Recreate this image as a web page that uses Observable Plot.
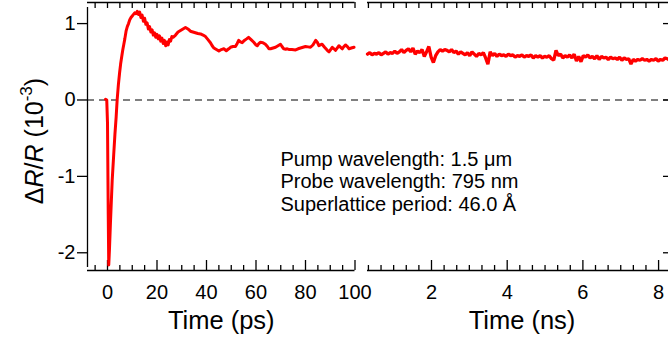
<!DOCTYPE html>
<html><head><meta charset="utf-8">
<script src="https://cdn.jsdelivr.net/npm/d3@7"></script>
<script src="https://cdn.jsdelivr.net/npm/@observablehq/plot@0.6"></script>
<style>
body{margin:0;background:#fff;}
#chart{position:relative;width:668px;height:345px;}
#chart svg{position:absolute;left:0;top:0;}
</style>
</head><body><div id="chart"></div>
<script>
// ---- data ----
const psTime = [
-0.8,-0.3,0.0,0.3,0.5,0.8,1.2,1.9,2.5,3.0,
3.5,3.9,4.4,4.9,5.3,5.8,6.2,6.6,7.0,7.5,
8.0,8.5,9.0,9.5,10.0,10.5,11.0,11.5,12.0,12.5,
13.0,13.5,14.0,14.5,15.0,15.5,16.0,16.5,17.0,17.5,
18.0,18.5,19.0,19.5,20.0,20.5,21.0,21.5,22.0,22.5,
23.0,23.5,24.0,24.5,25.0,25.5,26.0,26.5,27.5,28.5,
29.5,30.5,31.5,32.5,33.5,34.5,35.5,36.5,37.6,38.6,
39.6,40.6,41.6,42.3,43.0,44.0,45.0,46.0,47.0,48.0,
49.0,49.7,50.7,51.7,52.4,53.0,53.7,54.4,55.3,56.2,
57.0,58.0,59.1,60.0,60.5,61.2,61.8,62.8,63.8,64.6,
65.2,65.9,66.9,67.9,68.9,69.9,70.5,71.2,72.0,72.6,
73.5,74.5,76.0,77.0,78.0,79.0,80.0,81.0,82.0,83.0,
84.1,84.7,85.4,86.0,86.7,87.7,88.8,89.5,90.8,91.5,
92.1,92.8,93.5,94.2,94.9,95.5,96.2,96.9,97.6,98.5,
99.6];
const psValue = [
0.01,0.0,-0.3,-1.5,-2.16,-1.95,-1.6,-1.05,-0.72,-0.45,
-0.22,0.0,0.2,0.36,0.47,0.58,0.66,0.73,0.8,0.9,
0.96,1.0,1.05,1.08,1.10,1.12,1.14,1.13,1.16,1.12,
1.15,1.08,1.11,1.03,1.07,0.99,1.01,0.93,0.96,0.89,
0.92,0.85,0.88,0.82,0.86,0.80,0.84,0.77,0.81,0.74,
0.78,0.71,0.76,0.72,0.79,0.77,0.83,0.82,0.85,0.89,
0.91,0.93,0.95,0.93,0.90,0.89,0.88,0.87,0.865,0.85,
0.83,0.79,0.75,0.71,0.68,0.66,0.64,0.66,0.67,0.645,
0.67,0.69,0.70,0.70,0.74,0.78,0.76,0.75,0.78,0.80,
0.82,0.79,0.755,0.72,0.71,0.74,0.755,0.75,0.73,0.70,
0.67,0.67,0.68,0.69,0.71,0.73,0.70,0.67,0.665,0.67,
0.66,0.66,0.655,0.67,0.68,0.69,0.70,0.695,0.69,0.72,
0.78,0.76,0.71,0.72,0.73,0.69,0.65,0.63,0.69,0.67,
0.65,0.68,0.71,0.69,0.67,0.70,0.72,0.70,0.67,0.68,
0.69];
const nsTime = [
0.31,0.37,0.43,0.49,0.55,0.61,0.67,0.73,0.79,0.85,
0.91,0.97,1.03,1.09,1.15,1.21,1.27,1.33,1.39,1.45,
1.51,1.57,1.63,1.69,1.75,1.81,1.87,1.93,1.99,2.05,
2.11,2.17,2.23,2.29,2.35,2.41,2.47,2.53,2.59,2.65,
2.71,2.77,2.83,2.89,2.95,3.01,3.07,3.13,3.19,3.25,
3.31,3.37,3.43,3.49,3.55,3.61,3.67,3.73,3.79,3.85,
3.91,3.97,4.03,4.09,4.15,4.21,4.27,4.33,4.39,4.45,
4.51,4.57,4.63,4.69,4.75,4.81,4.87,4.93,4.99,5.05,
5.11,5.17,5.23,5.29,5.35,5.41,5.47,5.53,5.59,5.65,
5.71,5.77,5.83,5.89,5.95,6.01,6.07,6.13,6.19,6.25,
6.31,6.37,6.43,6.49,6.55,6.61,6.67,6.73,6.79,6.85,
6.91,6.97,7.03,7.09,7.15,7.21,7.27,7.33,7.39,7.45,
7.51,7.57,7.63,7.69,7.75,7.81,7.87,7.93,7.99,8.05,
8.11,8.17,8.23,8.26];
const nsValue = [
0.60,0.62,0.59,0.61,0.60,0.62,0.59,0.61,0.63,0.60,
0.62,0.61,0.64,0.61,0.63,0.66,0.62,0.65,0.67,0.63,
0.68,0.60,0.64,0.62,0.66,0.57,0.63,0.70,0.56,0.49,
0.58,0.63,0.66,0.64,0.66,0.65,0.63,0.66,0.62,0.64,
0.60,0.63,0.61,0.59,0.62,0.58,0.63,0.60,0.57,0.61,
0.59,0.62,0.55,0.47,0.63,0.58,0.61,0.57,0.60,0.58,
0.59,0.57,0.60,0.58,0.59,0.56,0.58,0.57,0.59,0.56,
0.58,0.57,0.59,0.55,0.58,0.56,0.58,0.55,0.57,0.56,
0.58,0.54,0.52,0.65,0.58,0.60,0.55,0.58,0.56,0.59,
0.55,0.60,0.51,0.57,0.50,0.58,0.56,0.59,0.55,0.57,
0.54,0.58,0.53,0.57,0.55,0.56,0.53,0.56,0.54,0.55,
0.53,0.56,0.52,0.55,0.53,0.54,0.47,0.53,0.51,0.53,
0.52,0.54,0.52,0.53,0.51,0.53,0.52,0.54,0.51,0.53,
0.52,0.55,0.54,0.53];
const psTicks = [0, 20, 40, 60, 80, 100];
const nsTicks = [2, 4, 6, 8];
const yTicks = [-2, -1, 0, 1];
const notes = ["Pump wavelength: 1.5 \u03bcm", "Probe wavelength: 795 nm", "Superlattice period: 46.0 \u00c5"];
const xLabelPs = "Time (ps)";
const xLabelNs = "Time (ns)";

// ---- layout ----
const FONT = "'Liberation Sans', Arial, Helvetica, sans-serif";
const W = 668, Hh = 345;
const mTop = 2, mBottom = 75;
const H = Hh - mTop - mBottom;
const yDomain = [-2.232, 1.276];
const psDomain = [-8.08, 100];
const nsDomain = [0.309, 8.262];
const leftL = 87, leftR = 354.5, rightL = 367;
const WL = leftR - leftL, WR = W - rightL;
const RED = "#ff0000";
const AX = {stroke: "black", strokeWidth: 1.3};
const style = {background: "transparent", overflow: "visible", fontFamily: FONT};

const psData = psTime.map((t, i) => ({t, v: psValue[i]}));
const nsData = nsTime.map((t, i) => ({t, v: nsValue[i]}));
const psAll = d3.range(-5, 101, 5);
const psMinor = psAll.filter(d => d % 20 !== 0);
const nsAll = d3.range(1, 25).map(k => k / 3);
const nsMinor = d3.range(1, 25).filter(k => k % 6 !== 0).map(k => k / 3);

const left = Plot.plot({
  width: W, height: Hh,
  marginLeft: leftL, marginRight: W - leftR, marginTop: mTop, marginBottom: mBottom,
  style,
  x: {domain: psDomain, axis: null},
  y: {domain: yDomain, axis: null},
  marks: [
    Plot.ruleY([0], {stroke: "black", strokeWidth: 1.2, strokeDasharray: "7,5", insetRight: -(W - leftR)}),
    Plot.ruleY([yDomain[0]], AX),
    Plot.ruleY([yDomain[1]], AX),
    Plot.ruleX([psDomain[0]], {...AX, insetTop: 5, insetBottom: 3}),
    Plot.tickX(psTicks, {...AX, insetTop: H - 10}),
    Plot.tickX(psMinor, {...AX, insetTop: H - 5}),
    Plot.tickX(psAll, {...AX, insetBottom: H - 6}),
    Plot.tickY(yTicks, {...AX, insetLeft: -10, insetRight: WL}),
    Plot.text(yTicks, {y: d => d, text: d => String(d), frameAnchor: "left", dx: -12, textAnchor: "end", lineAnchor: "middle", fontSize: 20, fill: "black", fontFamily: FONT}),
    Plot.text(psTicks, {x: d => d, text: d => String(d), frameAnchor: "bottom", dy: 28, lineAnchor: "bottom", fontSize: 20, fill: "black", fontFamily: FONT}),
    Plot.text([xLabelPs], {text: d => d, frameAnchor: "bottom", dy: 58, lineAnchor: "bottom", fontSize: 25.5, fill: "black", fontFamily: FONT}),
    Plot.text([notes.join("\n")], {text: d => d, frameAnchor: "top-left", dx: 193, dy: 147, lineAnchor: "top", textAnchor: "start", fontSize: 20, lineHeight: 1.13, fill: "black", fontFamily: FONT}),
    Plot.line(psData, {x: "t", y: "v", stroke: RED, strokeWidth: 3, strokeLinejoin: "round"})
  ]
});

const right = Plot.plot({
  width: W, height: Hh,
  marginLeft: rightL, marginRight: 0, marginTop: mTop, marginBottom: mBottom,
  style,
  x: {domain: nsDomain, axis: null},
  y: {domain: yDomain, axis: null},
  marks: [
    Plot.ruleY([yDomain[0]], AX),
    Plot.ruleY([yDomain[1]], AX),
    Plot.tickX(nsTicks, {...AX, insetTop: H - 10}),
    Plot.tickX(nsMinor, {...AX, insetTop: H - 5}),
    Plot.tickX(nsAll, {...AX, insetBottom: H - 6}),
    Plot.tickY(yTicks, {...AX, insetLeft: WR - 5}),
    Plot.text(nsTicks, {x: d => d, text: d => String(d), frameAnchor: "bottom", dy: 28, lineAnchor: "bottom", fontSize: 20, fill: "black", fontFamily: FONT}),
    Plot.text([xLabelNs], {text: d => d, frameAnchor: "bottom", dx: 4, dy: 58, lineAnchor: "bottom", fontSize: 25.5, fill: "black", fontFamily: FONT}),
    Plot.line(nsData, {x: "t", y: "v", stroke: RED, strokeWidth: 3.3, strokeLinejoin: "miter"})
  ]
});

const chart = document.getElementById("chart");
chart.append(left, right);

// y-axis title with italic R and superscript exponent
const yl = d3.select(left).append("text")
  .attr("transform", "translate(43,141) rotate(-90)")
  .attr("text-anchor", "middle")
  .attr("font-size", 25)
  .attr("font-family", FONT)
  .attr("fill", "black");
yl.append("tspan").text("\u0394");
yl.append("tspan").attr("font-style", "italic").text("R");
yl.append("tspan").text("/");
yl.append("tspan").attr("font-style", "italic").text("R");
yl.append("tspan").text(" (10");
yl.append("tspan").attr("font-size", 17).attr("dy", -11).text("-3");
yl.append("tspan").attr("dy", 11).text(")");
</script>
</body></html>
